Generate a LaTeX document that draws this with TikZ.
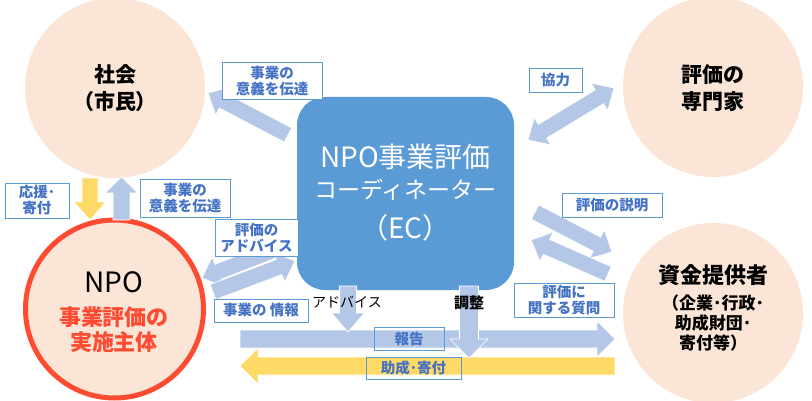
\documentclass[tikz,border=0pt]{standalone}
\usepackage{fontspec}
\setmainfont{Noto Sans CJK JP}
\usetikzlibrary{calc}
\definecolor{peach}{HTML}{FBE5D6}
\definecolor{ecblue}{HTML}{5B9BD5}
\definecolor{arrblue}{HTML}{B4C7E7}
\definecolor{arryel}{HTML}{FFD966}
\definecolor{lbltext}{HTML}{4472C4}
\definecolor{npored}{RGB}{255,75,50}
\newcommand\blockarrow[6]{%
  \coordinate (ba-h) at ($(#3)!#6!(#2)$);
  \filldraw[#1] ($(#2)!#4!90:(#3)$) -- ($(ba-h)!#4!-90:(#2)$) -- ($(ba-h)!#5!-90:(#2)$) -- (#3)
    -- ($(ba-h)!#5!90:(#2)$) -- ($(ba-h)!#4!90:(#2)$) -- ($(#2)!#4!-90:(#3)$) -- cycle;}
\newcommand\dblockarrow[6]{%
  \coordinate (ba-h1) at ($(#3)!#6!(#2)$);
  \coordinate (ba-h2) at ($(#2)!#6!(#3)$);
  \filldraw[#1] (#2) -- ($(ba-h2)!#5!90:(#3)$) -- ($(ba-h2)!#4!90:(#3)$) -- ($(ba-h1)!#4!-90:(#2)$)
    -- ($(ba-h1)!#5!-90:(#2)$) -- (#3) -- ($(ba-h1)!#5!90:(#2)$) -- ($(ba-h1)!#4!90:(#2)$)
    -- ($(ba-h2)!#4!-90:(#3)$) -- ($(ba-h2)!#5!-90:(#3)$) -- cycle;}
\begin{document}
\begin{tikzpicture}[x=1pt,y=-1pt,
  circ/.style={circle, fill=peach, minimum size=180pt, inner sep=0pt},
  lbl/.style={draw=ecblue, line width=0.8pt, fill=white, text=lbltext,
    font=\fontsize{14.5}{16}\selectfont\bfseries, align=center, inner sep=0pt},
  barr/.style={fill=arrblue, draw=white, line width=0.7pt},
  yarr/.style={fill=arryel, draw=white, line width=0.7pt},
  big/.style={font=\fontsize{21}{27}\selectfont\bfseries, align=center, inner sep=0pt}]
\useasboundingbox (0,0) rectangle (812,401);
\fill[white] (0,0) rectangle (812,401);
% circles
\node[circ] (soc) at (115,88) {};
\node[circ] (exp) at (713,87) {};
\node[circ] (fund) at (713,313) {};
\node[circ, draw=npored, line width=5pt, minimum size=178pt] (npo) at (114.5,309) {};
% EC box
\node[fill=ecblue, rounded corners=28pt, minimum width=217pt, minimum height=193pt, inner sep=0pt] (ec) at (405.5,193.5) {};
% arrow end points
\coordinate (a1s) at (288,135); \coordinate (a1e) at (208,93);
\coordinate (a2s) at (528,140); \coordinate (a2e) at (614,88);
\coordinate (a3s) at (535,212); \coordinate (a3e) at (612,252);
\coordinate (a4s) at (608,274); \coordinate (a4e) at (531,240);
\coordinate (a5s) at (290,244); \coordinate (a5e) at (202,278);
\coordinate (a6s) at (213,292); \coordinate (a6e) at (295,261);
\coordinate (a7s) at (90,178); \coordinate (a7e) at (90,220);
\coordinate (a8s) at (121.5,220); \coordinate (a8e) at (121.5,177);
\coordinate (a9s) at (240,339); \coordinate (a9e) at (615,339);
\coordinate (a10s) at (615,366); \coordinate (a10e) at (240,366);
\coordinate (a11s) at (348,286); \coordinate (a11e) at (348,332);
\coordinate (a12s) at (469,286); \coordinate (a12e) at (469,358);
% arrows
\blockarrow{barr}{a9s}{a9e}{9pt}{18pt}{18pt}
\blockarrow{yarr}{a10s}{a10e}{9pt}{18pt}{18pt}
\blockarrow{barr}{a1s}{a1e}{8pt}{16pt}{17pt}
\dblockarrow{barr}{a2s}{a2e}{8pt}{16pt}{17pt}
\blockarrow{barr}{a3s}{a3e}{8pt}{16pt}{17pt}
\blockarrow{barr}{a4s}{a4e}{8pt}{16pt}{17pt}
\blockarrow{barr}{a5s}{a5e}{8pt}{16pt}{17pt}
\blockarrow{barr}{a6s}{a6e}{8pt}{16pt}{17pt}
\blockarrow{yarr}{a7s}{a7e}{8pt}{16pt}{18pt}
\blockarrow{barr}{a8s}{a8e}{8.5pt}{16.5pt}{16pt}
\blockarrow{barr}{a11s}{a11e}{8.5pt}{16.5pt}{19pt}
\blockarrow{barr}{a12s}{a12e}{9.5pt}{19pt}{19pt}
% label boxes
\node[lbl, minimum width=100pt, minimum height=37pt] (b1) at (272,80.5) {事業の\\意義を伝達};
\node[lbl, minimum width=64pt, minimum height=35pt] (b2) at (37,200.5) {応援･\\寄付};
\node[lbl, minimum width=90pt, minimum height=38pt] (b3) at (185,198) {事業の\\意義を伝達};
\node[lbl, minimum width=83pt, minimum height=37pt] (b4) at (256.5,237.5) {評価の\\アドバイス};
\node[lbl, minimum width=94pt, minimum height=23pt] (b5) at (261,310.5) {事業の 情報};
\node[lbl, minimum width=53pt, minimum height=24pt] (b6) at (555.5,80) {協力};
\node[lbl, minimum width=100pt, minimum height=24pt] (b7) at (612,205) {評価の説明};
\node[lbl, minimum width=100pt, minimum height=34pt] (b8) at (564,300) {評価に\\関する質問};
\node[lbl, fill=none, minimum width=70pt, minimum height=23pt] (b9) at (409,338.5) {報告};
\node[lbl, fill=none, minimum width=95pt, minimum height=22pt] (b10) at (413.5,368) {助成･寄付};
% plain labels
\node[font=\fontsize{14}{16}\selectfont, inner sep=0pt] (t1) at (347,302) {アドバイス};
\node[font=\fontsize{15}{17}\selectfont\bfseries, inner sep=0pt] (t2) at (469,303) {調整};
% circle texts
\node[big] (tsoc) at (115,88.5) {社会\\（市民）};
\node[big] (texp) at (713,88.5) {評価の\\専門家};
\node[font=\fontsize{22}{26}\selectfont\bfseries, inner sep=0pt] (tf1) at (713,275) {資金提供者};
\node[font=\fontsize{17}{20}\selectfont\bfseries, align=center, inner sep=0pt] (tf2) at (713,323) {（企業･行政･\\助成財団･\\寄付等）};
\node[font=\fontsize{28}{30}\selectfont, inner sep=0pt] (tn1) at (114,282) {NPO};
\node[font=\fontsize{22}{25}\selectfont\bfseries, text=npored, align=center, inner sep=0pt] (tn2) at (114,329.5) {事業評価の\\実施主体};
% EC texts
\node[font=\fontsize{28}{30}\selectfont, text=white, inner sep=0pt] (ec1) at (405.5,157) {NPO事業評価};
\node[font=\fontsize{23}{25}\selectfont, text=white, inner sep=0pt] (ec2) at (405.5,190) {コーディネーター};
\node[font=\fontsize{28}{30}\selectfont, text=white, inner sep=0pt] (ec3) at (405.5,228) {（EC）};
\end{tikzpicture}
\end{document}
